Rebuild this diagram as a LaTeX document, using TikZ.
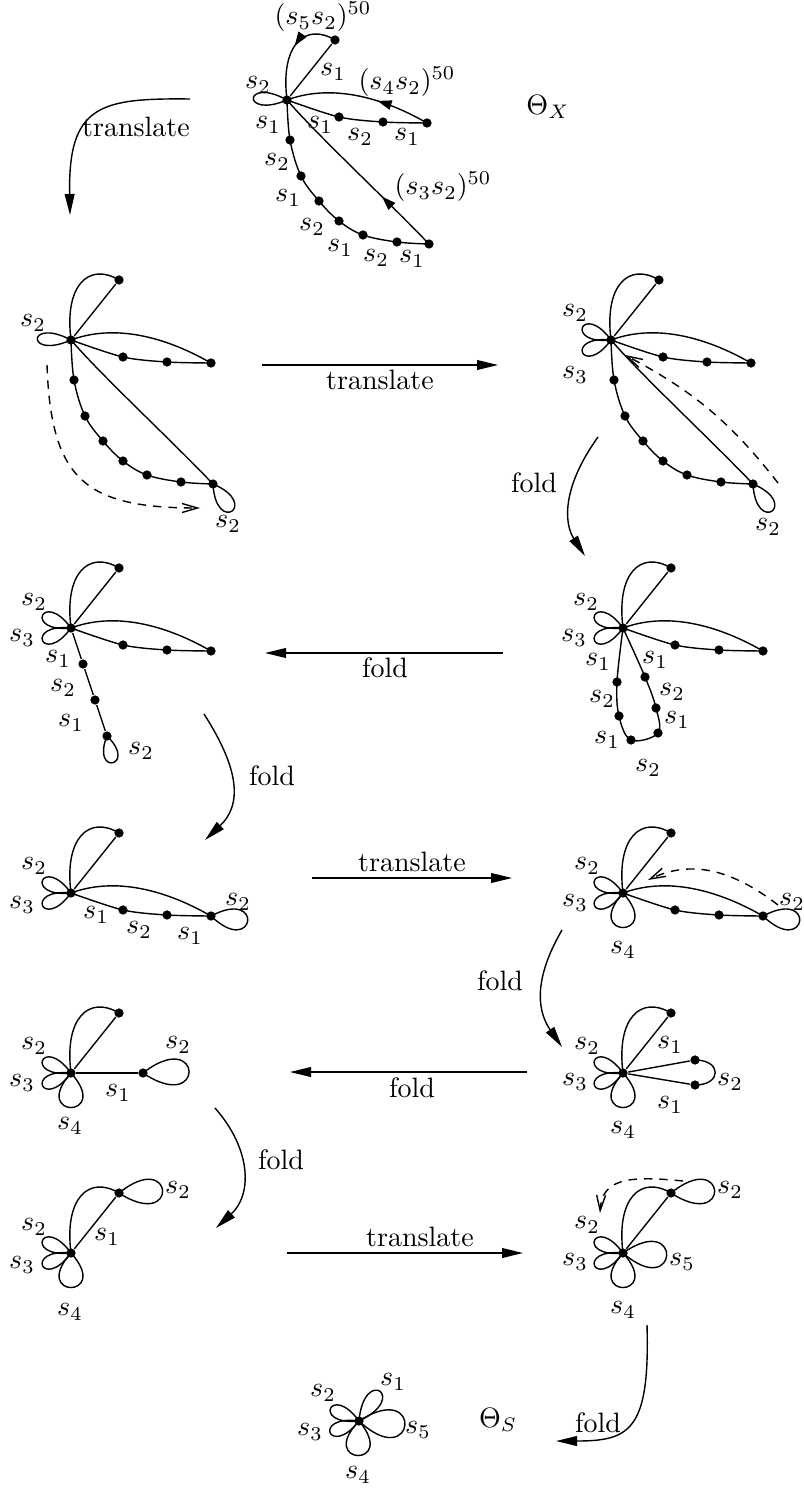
\documentclass[tikz,border=0pt]{standalone}
\usepackage{amsmath,amssymb}
\usepackage{tikz}
\usetikzlibrary{arrows.meta,decorations.markings}
\newcommand{\petal}[4]{\draw (#1.center) .. controls +(#2+#3:#4) and +(#2-#3:#4) .. (#1.center);}

\begin{document}
\begin{tikzpicture}[
  x=0.357pt, y=0.357pt,
  line width=0.5pt,
  vtx/.style={circle, fill, inner sep=0pt, minimum size=3.3pt},
  lbl/.style={inner sep=0pt},
  flow/.style={-{Triangle[length=7.5pt,width=3.5pt]}},
  trace/.style={dash pattern=on 3pt off 2.5pt, -{Straight Barb[length=5.5pt,width=3.2pt]}},
  midarrow/.style={postaction={decorate}, decoration={markings,
    mark=at position #1 with {\arrow{Triangle[length=5pt,width=3.4pt]}}}},
  midarrow/.default=0.5
]
\useasboundingbox (0,0) rectangle (803,-1488);

% --- Theta_X ---
\begin{scope}[shift={(287,-100)}]
  \node[vtx] (a0) at (0,0) {};
  \node[vtx] (aT) at (48,60) {};
  \node[vtx] (aR1) at (52,-17) {};
  \node[vtx] (aR2) at (96,-22) {};
  \node[vtx] (aR3) at (140,-23) {};
  \foreach \p/\q [count=\i] in {3/-40,14/-76,32/-101,52/-121,76/-135,110/-142,142/-144}
    \node[vtx] (aB\i) at (\p,\q) {};
  \draw[midarrow=0.45] (aT.center) .. controls (18,78) and (-7,55) .. (a0.center);
  \draw (a0) -- (aT);
  \draw[midarrow=0.37] (aR3.center) .. controls (93,4) and (43,16) .. (a0.center);
  \draw plot[smooth, tension=0.5] coordinates {(a0.center) (aR1.center) (aR2.center) (aR3.center)};
  \draw plot[smooth, tension=0.6] coordinates {(a0.center) (aB1.center) (aB2.center) (aB3.center)
    (aB4.center) (aB5.center) (aB6.center) (aB7.center)};
  \draw[midarrow=0.33] (aB7.center) .. controls (100,-100) and (30,-35) .. (a0.center);
  \petal{a0}{177}{26}{50}
  \foreach \p/\q/\t [count=\i] in {36/83/{(s_5s_2)^{50}}, 46/28/s_1, 120/18/{(s_4s_2)^{50}},
      -29/15/s_2, -19/-25/s_1, 33/-25/s_1, 73/-37/s_2, 120/-37/s_1,
      -10/-62/s_2, 1/-98/s_1, 25/-127/s_2, 53/-148/s_1, 89/-158/s_2, 125/-159/s_1,
      156/-87/{(s_3s_2)^{50}}}
    \node[lbl] (aL\i) at (\p,\q) {$\t$};
\end{scope}
\node (thX) at (548,-107) {$\Theta_X$};

% --- first translation ---
\coordinate (tr1a) at (190,-99);
\coordinate (tr1b) at (70,-215);
\draw[flow] (tr1a) .. controls (100,-98) and (68,-105) .. (tr1b);
\node (tr1l) at (136,-127) {translate};

% --- row 2, left ---
\begin{scope}[shift={(71,-340)}]
  \node[vtx] (b0) at (0,0) {};
  \node[vtx] (bT) at (48,60) {};
  \node[vtx] (bR1) at (52,-17) {};
  \node[vtx] (bR2) at (96,-22) {};
  \node[vtx] (bR3) at (140,-23) {};
  \foreach \p/\q [count=\i] in {3/-40,14/-76,32/-101,52/-121,76/-135,110/-142,142/-144}
    \node[vtx] (bB\i) at (\p,\q) {};
  \draw (bT.center) .. controls (18,78) and (-7,55) .. (b0.center);
  \draw (b0) -- (bT);
  \draw (bR3.center) .. controls (93,4) and (43,16) .. (b0.center);
  \draw plot[smooth, tension=0.5] coordinates {(b0.center) (bR1.center) (bR2.center) (bR3.center)};
  \draw plot[smooth, tension=0.6] coordinates {(b0.center) (bB1.center) (bB2.center) (bB3.center)
    (bB4.center) (bB5.center) (bB6.center) (bB7.center)};
  \draw (bB7.center) .. controls (100,-100) and (30,-35) .. (b0.center);
  \petal{b0}{178}{26}{50}
  \petal{bB7}{-55}{32}{52}
  \coordinate (bD1) at (-24,-25);
  \coordinate (bD2) at (129,-168);
  \draw[trace] (bD1) to[out=-88, in=180, looseness=1.4] (bD2);
  \node[lbl] (bL1) at (-38,17) {$s_2$};
  \node[lbl] (bL2) at (157,-184) {$s_2$};
\end{scope}

\coordinate (tr2a) at (262,-365);
\coordinate (tr2b) at (498,-365);
\draw[flow] (tr2a) -- (tr2b);
\node (tr2l) at (380,-380) {translate};

% --- row 2, right ---
\begin{scope}[shift={(611,-340)}]
  \node[vtx] (c0) at (0,0) {};
  \node[vtx] (cT) at (48,60) {};
  \node[vtx] (cR1) at (52,-17) {};
  \node[vtx] (cR2) at (96,-22) {};
  \node[vtx] (cR3) at (140,-23) {};
  \foreach \p/\q [count=\i] in {3/-40,14/-76,32/-101,52/-121,76/-135,110/-142,142/-144}
    \node[vtx] (cB\i) at (\p,\q) {};
  \draw (cT.center) .. controls (18,78) and (-7,55) .. (c0.center);
  \draw (c0) -- (cT);
  \draw (cR3.center) .. controls (93,4) and (43,16) .. (c0.center);
  \draw plot[smooth, tension=0.5] coordinates {(c0.center) (cR1.center) (cR2.center) (cR3.center)};
  \draw plot[smooth, tension=0.6] coordinates {(c0.center) (cB1.center) (cB2.center) (cB3.center)
    (cB4.center) (cB5.center) (cB6.center) (cB7.center)};
  \draw (cB7.center) .. controls (100,-100) and (30,-35) .. (c0.center);
  \petal{c0}{156}{30}{48}
  \petal{c0}{204}{30}{48}
  \petal{cB7}{-55}{32}{52}
  \coordinate (cD1) at (167,-143);
  \coordinate (cD2) at (14,-15);
  \draw[trace] (cD1) to[out=128, in=-28] (cD2);
  \node[lbl] (cL1) at (-36,27) {$s_2$};
  \node[lbl] (cL2) at (-36,-35) {$s_3$};
  \node[lbl] (cL3) at (157,-187) {$s_2$};
\end{scope}

\coordinate (fd1a) at (598,-437);
\coordinate (fd1b) at (585,-556);
\draw[flow] (fd1a) .. controls (560,-490) and (565,-525) .. (fd1b);
\node (fd1l) at (534,-483) {fold};

% --- row 3, right ---
\begin{scope}[shift={(623,-628)}]
  \node[vtx] (d0) at (0,0) {};
  \node[vtx] (dT) at (48,60) {};
  \node[vtx] (dR1) at (52,-17) {};
  \node[vtx] (dR2) at (96,-22) {};
  \node[vtx] (dR3) at (140,-23) {};
  \node[vtx] (dL1) at (-6,-54) {};
  \node[vtx] (dL2) at (-4,-88) {};
  \node[vtx] (dL3) at (8,-112) {};
  \node[vtx] (dM3) at (35,-105) {};
  \node[vtx] (dM2) at (33,-80) {};
  \node[vtx] (dM1) at (22,-49) {};
  \draw (dT.center) .. controls (18,78) and (-7,55) .. (d0.center);
  \draw (d0) -- (dT);
  \draw (dR3.center) .. controls (93,4) and (43,16) .. (d0.center);
  \draw plot[smooth, tension=0.5] coordinates {(d0.center) (dR1.center) (dR2.center) (dR3.center)};
  \draw plot[smooth, tension=0.6] coordinates {(d0.center) (dL1.center) (dL2.center) (dL3.center)
    (dM3.center) (dM2.center) (dM1.center) (d0.center)};
  \petal{d0}{156}{30}{48}
  \petal{d0}{204}{30}{48}
  \foreach \p/\q/\t [count=\i] in {-37/26/s_2, -49/-10/s_3, -25/-34/s_1, -21/-71/s_2, -16/-112/s_1,
      25/-140/s_2, 32/-32/s_1, 49/-64/s_2, 54/-92/s_1}
    \node[lbl] (dL\i x) at (\p,\q) {$\t$};
\end{scope}

\coordinate (fd2a) at (503,-653);
\coordinate (fd2b) at (265,-653);
\draw[flow] (fd2a) -- (fd2b);
\node (fd2l) at (385,-668) {fold};

% --- row 3, left ---
\begin{scope}[shift={(71,-628)}]
  \node[vtx] (e0) at (0,0) {};
  \node[vtx] (eT) at (48,60) {};
  \node[vtx] (eR1) at (52,-17) {};
  \node[vtx] (eR2) at (96,-22) {};
  \node[vtx] (eR3) at (140,-23) {};
  \node[vtx] (eD1) at (12,-36) {};
  \node[vtx] (eD2) at (24,-72) {};
  \node[vtx] (eD3) at (36,-108) {};
  \draw (eT.center) .. controls (18,78) and (-7,55) .. (e0.center);
  \draw (e0) -- (eT);
  \draw (eR3.center) .. controls (93,4) and (43,16) .. (e0.center);
  \draw plot[smooth, tension=0.5] coordinates {(e0.center) (eR1.center) (eR2.center) (eR3.center)};
  \draw (e0) -- (eD1) -- (eD2) -- (eD3);
  \petal{e0}{156}{30}{48}
  \petal{e0}{204}{30}{48}
  \petal{eD3}{-78}{34}{44}
  \foreach \p/\q/\t [count=\i] in {-37/26/s_2, -49/-10/s_3, -13/-31/s_1, -8/-60/s_2, 0/-95/s_1, 70/-123/s_2}
    \node[lbl] (eL\i) at (\p,\q) {$\t$};
\end{scope}

\coordinate (fd3a) at (204,-714);
\coordinate (fd3b) at (205,-840);
\draw[flow] (fd3a) .. controls (240,-770) and (242,-805) .. (fd3b);
\node (fd3l) at (272,-776) {fold};

% --- row 4, left ---
\begin{scope}[shift={(71,-893)}]
  \node[vtx] (f0) at (0,0) {};
  \node[vtx] (fT) at (48,60) {};
  \node[vtx] (fR1) at (52,-17) {};
  \node[vtx] (fR2) at (96,-22) {};
  \node[vtx] (fR3) at (140,-23) {};
  \draw (fT.center) .. controls (18,78) and (-7,55) .. (f0.center);
  \draw (f0) -- (fT);
  \draw (fR3.center) .. controls (93,4) and (43,16) .. (f0.center);
  \draw plot[smooth, tension=0.5] coordinates {(f0.center) (fR1.center) (fR2.center) (fR3.center)};
  \petal{f0}{156}{30}{48}
  \petal{f0}{204}{30}{48}
  \petal{fR3}{-8}{36}{61}
  \foreach \p/\q/\t [count=\i] in {-37/27/s_2, -49/-12/s_3, 25/-22/s_1, 68/-37/s_2, 119/-43/s_1, 167/-9/s_2}
    \node[lbl] (fL\i) at (\p,\q) {$\t$};
\end{scope}

\coordinate (tr3a) at (312,-878);
\coordinate (tr3b) at (512,-878);
\draw[flow] (tr3a) -- (tr3b);
\node (tr3l) at (412,-862) {translate};

% --- row 4, right ---
\begin{scope}[shift={(623,-893)}]
  \node[vtx] (g0) at (0,0) {};
  \node[vtx] (gT) at (48,60) {};
  \node[vtx] (gR1) at (52,-17) {};
  \node[vtx] (gR2) at (96,-22) {};
  \node[vtx] (gR3) at (140,-23) {};
  \draw (gT.center) .. controls (18,78) and (-7,55) .. (g0.center);
  \draw (g0) -- (gT);
  \draw (gR3.center) .. controls (93,4) and (43,16) .. (g0.center);
  \draw plot[smooth, tension=0.5] coordinates {(g0.center) (gR1.center) (gR2.center) (gR3.center)};
  \petal{g0}{156}{30}{48}
  \petal{g0}{204}{30}{48}
  \petal{g0}{-90}{42}{62}
  \petal{gR3}{-8}{36}{61}
  \coordinate (gD1) at (155,-12);
  \coordinate (gD2) at (25,13);
  \draw[trace] (gD1) .. controls (107,25) and (67,33) .. (gD2);
  \foreach \p/\q/\t [count=\i] in {-36/27/s_2, -48/-10/s_3, 0/-57/s_4, 169/-9/s_2}
    \node[lbl] (gL\i) at (\p,\q) {$\t$};
\end{scope}

\coordinate (fd4a) at (562,-930);
\coordinate (fd4b) at (562,-1047);
\draw[flow] (fd4a) .. controls (530,-985) and (540,-1015) .. (fd4b);
\node (fd4l) at (500,-981) {fold};

% --- row 5, right ---
\begin{scope}[shift={(623,-1073)}]
  \node[vtx] (h0) at (0,0) {};
  \node[vtx] (hT) at (48,60) {};
  \node[vtx] (hP1) at (72,13) {};
  \node[vtx] (hP2) at (72,-12) {};
  \draw (hT.center) .. controls (18,78) and (-7,55) .. (h0.center);
  \draw (h0) -- (hT);
  \draw (h0) -- (hP1);
  \draw (h0) -- (hP2);
  \draw (hP1.center) .. controls (99,13) and (99,-12) .. (hP2.center);
  \petal{h0}{156}{30}{48}
  \petal{h0}{204}{30}{48}
  \petal{h0}{-90}{42}{62}
  \foreach \p/\q/\t [count=\i] in {-36/27/s_2, -48/-9/s_3, 0/-57/s_4, 47/28/s_1, 107/-9/s_2, 47/-32/s_1}
    \node[lbl] (hL\i) at (\p,\q) {$\t$};
\end{scope}

\coordinate (fd5a) at (527,-1072);
\coordinate (fd5b) at (290,-1072);
\draw[flow] (fd5a) -- (fd5b);
\node (fd5l) at (412,-1088) {fold};

% --- row 5, left ---
\begin{scope}[shift={(71,-1073)}]
  \node[vtx] (i0) at (0,0) {};
  \node[vtx] (iT) at (48,60) {};
  \node[vtx] (iQ) at (72,0) {};
  \draw (iT.center) .. controls (18,78) and (-7,55) .. (i0.center);
  \draw (i0) -- (iT);
  \draw (i0) -- (iQ);
  \petal{i0}{156}{30}{48}
  \petal{i0}{204}{30}{48}
  \petal{i0}{-90}{42}{62}
  \petal{iQ}{2}{36}{76}
  \foreach \p/\q/\t [count=\i] in {-37/27/s_2, -49/-10/s_3, -1/-53/s_4, 47/-20/s_1, 107/28/s_2}
    \node[lbl] (iL\i) at (\p,\q) {$\t$};
\end{scope}

\coordinate (fd6a) at (215,-1108);
\coordinate (fd6b) at (216,-1228);
\draw[flow] (fd6a) .. controls (252,-1150) and (252,-1195) .. (fd6b);
\node (fd6l) at (281,-1160) {fold};

% --- row 6, left ---
\begin{scope}[shift={(71,-1253)}]
  \node[vtx] (j0) at (0,0) {};
  \node[vtx] (jT) at (48,60) {};
  \draw (jT.center) .. controls (18,78) and (-7,55) .. (j0.center);
  \draw (j0) -- (jT);
  \petal{j0}{156}{30}{48}
  \petal{j0}{204}{30}{48}
  \petal{j0}{-90}{42}{62}
  \petal{jT}{3}{36}{72}
  \foreach \p/\q/\t [count=\i] in {-37/26/s_2, -49/-12/s_3, -1/-59/s_4, 36/16/s_1, 107/63/s_2}
    \node[lbl] (jL\i) at (\p,\q) {$\t$};
\end{scope}

\coordinate (tr4a) at (287,-1253);
\coordinate (tr4b) at (523,-1253);
\draw[flow] (tr4a) -- (tr4b);
\node (tr4l) at (420,-1237) {translate};

% --- row 6, right ---
\begin{scope}[shift={(623,-1253)}]
  \node[vtx] (k0) at (0,0) {};
  \node[vtx] (kT) at (48,60) {};
  \draw (kT.center) .. controls (18,78) and (-7,55) .. (k0.center);
  \draw (k0) -- (kT);
  \petal{k0}{156}{30}{48}
  \petal{k0}{204}{30}{48}
  \petal{k0}{-90}{42}{62}
  \petal{k0}{-3}{38}{74}
  \petal{kT}{3}{36}{72}
  \coordinate (kD1) at (60,72);
  \coordinate (kD2) at (-23,40);
  \draw[trace] (kD1) .. controls (2,78) and (-21,73) .. (kD2);
  \foreach \p/\q/\t [count=\i] in {-36/28/s_2, -48/-9/s_3, 0/-57/s_4, 59/-9/s_5, 107/63/s_2}
    \node[lbl] (kL\i) at (\p,\q) {$\t$};
\end{scope}

\coordinate (fd7a) at (647,-1325);
\coordinate (fd7b) at (556,-1441);
\draw[flow] (fd7a) .. controls (650,-1430) and (630,-1441) .. (fd7b);
\node (fd7l) at (598,-1423) {fold};

% --- Theta_S ---
\begin{scope}[shift={(359,-1421)}]
  \node[vtx] (l0) at (0,0) {};
  \petal{l0}{55}{30}{56}
  \petal{l0}{-5}{38}{78}
  \petal{l0}{156}{30}{48}
  \petal{l0}{202}{30}{48}
  \petal{l0}{-92}{42}{62}
  \foreach \p/\q/\t [count=\i] in {34/39/s_1, -36/28/s_2, -49/-11/s_3, 59/-9/s_5, -1/-54/s_4}
    \node[lbl] (lL\i) at (\p,\q) {$\t$};
\end{scope}
\node (thS) at (498,-1420) {$\Theta_S$};

\end{tikzpicture}
\end{document}
